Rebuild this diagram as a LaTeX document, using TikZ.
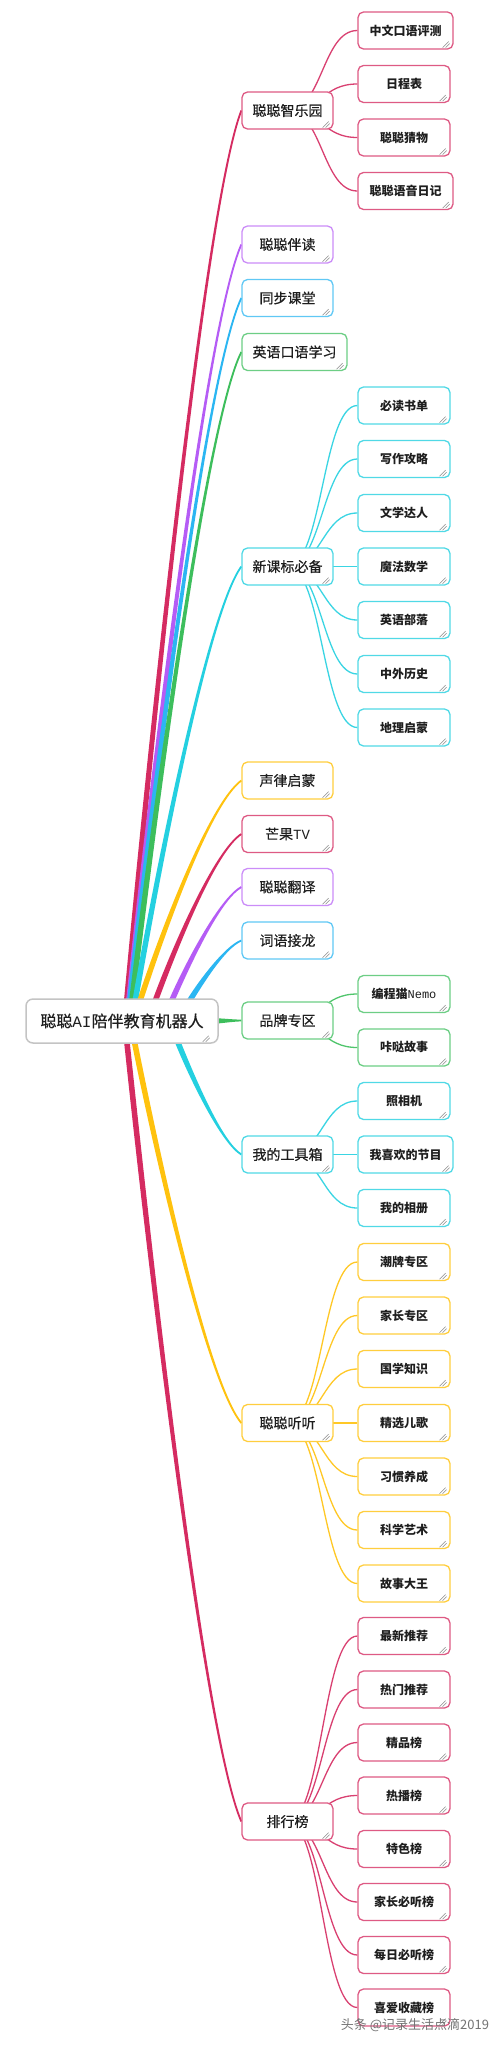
\documentclass[tikz,border=0pt]{standalone}
\usepackage{fontspec}
\setmainfont{Noto Sans CJK SC}
\newfontfamily\medfont{Noto Sans CJK SC}[FakeBold=0.5]
\newfontfamily\monofnt{Liberation Mono}
\usetikzlibrary{calc}
\pgfdeclarelayer{bg}
\pgfsetlayers{bg,main}
\definecolor{cR}{HTML}{D52B61}
\definecolor{cP}{HTML}{B55CF5}
\definecolor{cB}{HTML}{2BB6F2}
\definecolor{cG}{HTML}{3DBE5C}
\definecolor{cC}{HTML}{24D0E0}
\definecolor{cY}{HTML}{FFC20E}
\definecolor{txt}{HTML}{1E1E1E}
\definecolor{rootc}{HTML}{C4C4C4}
\definecolor{gripc}{HTML}{8A8A8A}
\tikzset{
  box/.style={draw, fill=white, rounded corners=5.5pt, line width=1.3pt,
    minimum height=37pt, inner sep=0pt, text=txt},
  lone/.style={box, minimum width=91pt, font=\fontsize{14}{16}\selectfont\medfont},
  ltwo/.style={box, minimum width=92pt, font=\fontsize{12}{14}\selectfont\bfseries},
  ltwow/.style={ltwo, minimum width=95pt},
  rootbox/.style={draw=rootc, fill=white, rounded corners=7pt, line width=1.5pt,
    minimum width=192pt, minimum height=44pt, inner sep=0pt, text=txt,
    font=\fontsize{16}{18}\selectfont\medfont},
  bR/.style={draw=cR!78!white}, bP/.style={draw=cP!70!white},
  bB/.style={draw=cB!75!white}, bG/.style={draw=cG!75!white},
  bC/.style={draw=cC!80!white}, bY/.style={draw=cY!80!white},
  wmark/.style={font=\fontsize{13}{15}\selectfont, text=black!55}
}
% tapered main branch: colour, start coordinate, child node
\newcommand\mainbr[3]{%
  \fill[#1] let \p1=(#2), \p2=(#3.west),
    \p3=({\x1+0.25*(\x2-\x1)},{\y1+0.35*(\y2-\y1)}),
    \p4=({\x2-0.3*(\x2-\x1)},{\y2-0.1*(\y2-\y1)}),
    \n1={atan2(\y3-\y1,\x3-\x1)}, \n2={atan2(\y2-\y4,\x2-\x4)},
    \p5=({-2.8pt*sin(\n1)},{2.8pt*cos(\n1)}),
    \p6=({-0.9pt*sin(\n2)},{0.9pt*cos(\n2)})
  in ({\x1+(\x5)},{\y1+(\y5)}) .. controls ({\x3+(\x5)},{\y3+(\y5)}) and ({\x4+(\x6)},{\y4+(\y6)}) .. ({\x2+(\x6)},{\y2+(\y6)})
   -- ({\x2-(\x6)},{\y2-(\y6)}) .. controls ({\x4-(\x6)},{\y4-(\y6)}) and ({\x3-(\x5)},{\y3-(\y5)}) .. ({\x1-(\x5)},{\y1-(\y5)}) -- cycle;}
% thin sub branch: colour, parent, child
\newcommand\subbr[3]{%
  \draw[#1, line width=1.3pt] let \p1=(#2.center), \p2=(#3.west) in
    (\p1) .. controls ({0.5*\x1+0.5*\x2},\y1) and ({0.5*\x1+0.5*\x2},\y2) .. (\p2);}
% resize grip at the bottom-right corner
\newcommand\grip[2]{%
  \draw[gripc, line width=0.5pt] ([shift={(-11-#2,-2)}]#1.south east) -- ++(6,-6)
    ([shift={(-8-#2,-2)}]#1.south east) -- ++(4,-4);}

\begin{document}
\begin{tikzpicture}[x=1pt,y=-1pt]
\useasboundingbox (0,0) rectangle (499,2048);
\begin{pgfonlayer}{bg}
\fill[white] (0,0) rectangle (499,2048);
\end{pgfonlayer}

% root
\node[rootbox] (root) at (122,1021) {聪聪{\monofnt AI}陪伴教育机器人};

% level one
\node[lone,bR] (a) at (287.5,110.5) {聪聪智乐园};
\node[lone,bP] (b) at (287.5,244.5) {聪聪伴读};
\node[lone,bB] (c) at (287.5,298) {同步课堂};
\node[lone,bG,minimum width=105pt] (d) at (294.5,352) {英语口语学习};
\node[lone,bC] (e) at (287.5,566.5) {新课标必备};
\node[lone,bY] (f) at (287.5,780.5) {声律启蒙};
\node[lone,bR] (g) at (287.5,834) {芒果{\monofnt TV}};
\node[lone,bP] (h) at (287.5,887) {聪聪翻译};
\node[lone,bB] (i) at (287.5,940.5) {词语接龙};
\node[lone,bG] (j) at (287.5,1020.5) {品牌专区};
\node[lone,bC] (k) at (287.5,1154.5) {我的工具箱};
\node[lone,bY] (l) at (287.5,1423) {聪聪听听};
\node[lone,bR] (m) at (287.5,1821.5) {排行榜};

% level two
\node[ltwow,bR] (a1) at (405.5,30.5) {中文口语评测};
\node[ltwo,bR] (a2) at (404,84) {日程表};
\node[ltwo,bR] (a3) at (404,137.5) {聪聪猜物};
\node[ltwow,bR] (a4) at (405.5,191) {聪聪语音日记};

\node[ltwo,bC] (e1) at (404,405.5) {必读书单};
\node[ltwo,bC] (e2) at (404,459) {写作攻略};
\node[ltwo,bC] (e3) at (404,513) {文学达人};
\node[ltwo,bC] (e4) at (404,566.5) {魔法数学};
\node[ltwo,bC] (e5) at (404,620) {英语部落};
\node[ltwo,bC] (e6) at (404,674) {中外历史};
\node[ltwo,bC] (e7) at (404,727.5) {地理启蒙};

\node[ltwo,bG] (j1) at (404,994) {编程猫{\mdseries\monofnt Nemo}};
\node[ltwo,bG] (j2) at (404,1047.5) {咔哒故事};

\node[ltwo,bC] (k1) at (404,1101) {照相机};
\node[ltwow,bC] (k2) at (405.5,1154.5) {我喜欢的节目};
\node[ltwo,bC] (k3) at (404,1208) {我的相册};

\node[ltwo,bY] (l1) at (404,1262) {潮牌专区};
\node[ltwo,bY] (l2) at (404,1315.5) {家长专区};
\node[ltwo,bY] (l3) at (404,1369) {国学知识};
\node[ltwo,bY] (l4) at (404,1423) {精选儿歌};
\node[ltwo,bY] (l5) at (404,1476.5) {习惯养成};
\node[ltwo,bY] (l6) at (404,1530) {科学艺术};
\node[ltwo,bY] (l7) at (404,1583.5) {故事大王};

\node[ltwo,bR] (m1) at (404,1636) {最新推荐};
\node[ltwo,bR] (m2) at (404,1689.5) {热门推荐};
\node[ltwo,bR] (m3) at (404,1742.5) {精品榜};
\node[ltwo,bR] (m4) at (404,1795.5) {热播榜};
\node[ltwo,bR] (m5) at (404,1849) {特色榜};
\node[ltwo,bR] (m6) at (404,1902) {家长必听榜};
\node[ltwo,bR] (m7) at (404,1955) {每日必听榜};
\node[ltwo,bR] (m8) at (404,2007.5) {喜爱收藏榜};

% connectors
\begin{pgfonlayer}{bg}
\coordinate (sa) at ($(root.north west)+(101,8)$);
\coordinate (sb) at ($(root.north west)+(103,8)$);
\coordinate (sc) at ($(root.north west)+(104,8)$);
\coordinate (sd) at ($(root.north west)+(106,8)$);
\coordinate (se) at ($(root.north west)+(109,8)$);
\coordinate (sf) at ($(root.north west)+(113,8)$);
\coordinate (sg) at ($(root.north west)+(128,8)$);
\coordinate (sh) at ($(root.north west)+(144,8)$);
\coordinate (si) at ($(root.north west)+(161,8)$);
\coordinate (sj) at ($(root.east)+(-6,0)$);
\coordinate (sk) at ($(root.south west)+(150,-8)$);
\coordinate (sl) at ($(root.south west)+(108,-8)$);
\coordinate (sm) at ($(root.south west)+(101,-8)$);

\mainbr{cR}{sa}{a}
\mainbr{cP}{sb}{b}
\mainbr{cB}{sc}{c}
\mainbr{cG}{sd}{d}
\mainbr{cC}{se}{e}
\mainbr{cY}{sf}{f}
\mainbr{cR}{sg}{g}
\mainbr{cP}{sh}{h}
\mainbr{cB}{si}{i}
\mainbr{cG}{sj}{j}
\mainbr{cC}{sk}{k}
\mainbr{cY}{sl}{l}
\mainbr{cR}{sm}{m}

\foreach \c in {a1,a2,a3,a4} {\subbr{cR!90!white}{a}{\c}}
\foreach \c in {e1,e2,e3,e4,e5,e6,e7} {\subbr{cC!90!white}{e}{\c}}
\foreach \c in {j1,j2} {\subbr{cG!90!white}{j}{\c}}
\foreach \c in {k1,k2,k3} {\subbr{cC!90!white}{k}{\c}}
\foreach \c in {l1,l2,l3,l4,l5,l6,l7} {\subbr{cY!90!white}{l}{\c}}
\foreach \c in {m1,m2,m3,m4,m5,m6,m7,m8} {\subbr{cR!90!white}{m}{\c}}
\end{pgfonlayer}

% grips
\grip{root}{5}
\foreach \n in {a,b,c,d,e,f,g,h,i,j,k,l,m,a1,a2,a3,a4,e1,e2,e3,e4,e5,e6,e7,j1,j2,k1,k2,k3,l1,l2,l3,l4,l5,l6,l7,m1,m2,m3,m4,m5,m6,m7,m8} {\grip{\n}{0}}

% watermark
\node[wmark] (wm) at (415,2025) {头条 @记录生活点滴2019};
\end{tikzpicture}
\end{document}
